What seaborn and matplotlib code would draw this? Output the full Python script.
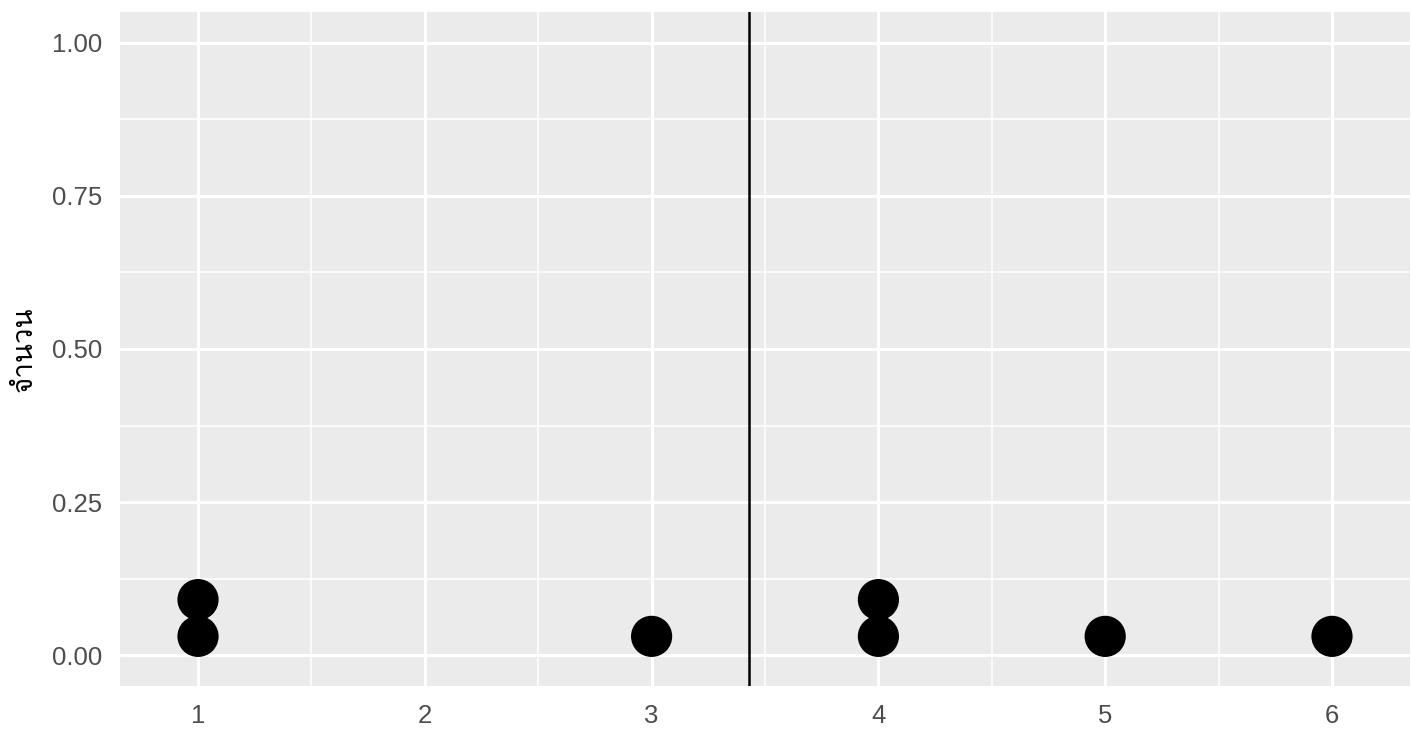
import numpy as np
import pandas as pd
import matplotlib
matplotlib.use('Agg')
import matplotlib.pyplot as plt
import seaborn as sns
from matplotlib.ticker import MultipleLocator

# Данные
values = [1, 1, 3, 4, 4, 5, 6]
x_ticks = [1, 2, 3, 4, 5, 6]
y_ticks = [0.00, 0.25, 0.50, 0.75, 1.00]
y_label = 'จำนวน'

dot_h = 0.06  # высота одной точки в единицах оси y

# Стек точек как в geom_dotplot
df = pd.DataFrame({'x': values})
df['k'] = df.groupby('x').cumcount()
df['y'] = (df['k'] + 0.5) * dot_h + 0.001
mean_x = np.mean(values)

sns.set_theme(style='darkgrid')
plt.rcParams['font.family'] = ['Liberation Sans', 'DejaVu Sans']

fig = plt.figure(figsize=(14.12, 7.36), dpi=100)
ax = fig.add_axes([120 / 1412, 50 / 736, 1290 / 1412, 674 / 736])
ax.set_facecolor('#EBEBEB')

sns.scatterplot(data=df, x='x', y='y', s=880, color='black', edgecolor='none',
                ax=ax, zorder=3, legend=False)
ax.axvline(mean_x, color='black', lw=1.8, zorder=4)

ax.set_xlim(0.656, 6.344)
ax.set_ylim(-0.05, 1.05)
ax.set_xticks(x_ticks)
ax.set_xticklabels([str(t) for t in x_ticks])
ax.set_yticks(y_ticks)
ax.set_yticklabels([f'{t:.2f}' for t in y_ticks])
ax.xaxis.set_minor_locator(MultipleLocator(0.5))
ax.yaxis.set_minor_locator(MultipleLocator(0.125))
ax.grid(which='major', color='white', lw=2.2)
ax.grid(which='minor', color='white', lw=1.1)
ax.set_axisbelow(True)
for s in ax.spines.values():
    s.set_visible(False)

ax.tick_params(axis='both', which='major', length=7, width=1.5, color='#333333',
               labelsize=18.5, labelcolor='#4D4D4D', pad=6)
ax.tick_params(axis='both', which='minor', length=0)
ax.set_xlabel('')
ax.set_ylabel(y_label, fontsize=20, color='black', labelpad=10,
              family=['Loma', 'Sarabun', 'DejaVu Sans'])

fig.savefig('out.png', dpi=100)
